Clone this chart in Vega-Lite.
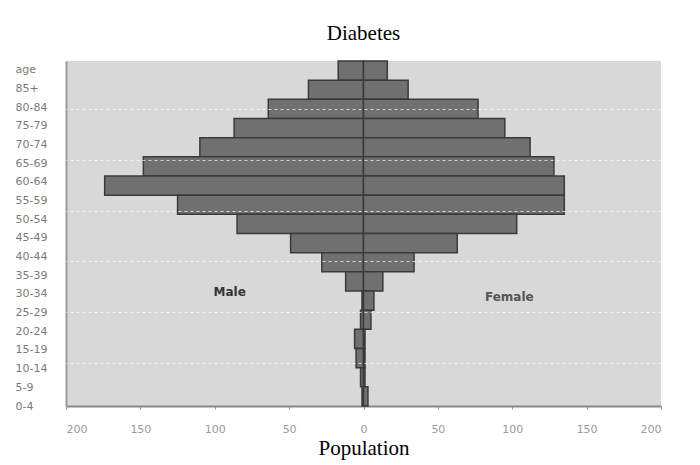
{
  "$schema": "https://vega.github.io/schema/vega-lite/v6.json",
  "width": 595,
  "height": 345,
  "autosize": {"type": "none"},
  "padding": {"left": 66, "top": 61, "right": 39, "bottom": 59},
  "background": "white",
  "config": {"view": {"fill": "#d8d8d8", "stroke": null}},
  "title": {"text": "Diabetes", "font": "Liberation Serif", "fontSize": 21, "fontWeight": "normal", "color": "black", "anchor": "middle", "offset": 16},
  "datasets": {
    "pyramid": [
      {"group": "85+", "sex": "Male", "value": -17}, {"group": "85+", "sex": "Female", "value": 16},
      {"group": "80-84", "sex": "Male", "value": -37}, {"group": "80-84", "sex": "Female", "value": 30},
      {"group": "75-79", "sex": "Male", "value": -64}, {"group": "75-79", "sex": "Female", "value": 77},
      {"group": "70-74", "sex": "Male", "value": -87}, {"group": "70-74", "sex": "Female", "value": 95},
      {"group": "65-69", "sex": "Male", "value": -110}, {"group": "65-69", "sex": "Female", "value": 112},
      {"group": "60-64", "sex": "Male", "value": -148}, {"group": "60-64", "sex": "Female", "value": 128},
      {"group": "55-59", "sex": "Male", "value": -174}, {"group": "55-59", "sex": "Female", "value": 135},
      {"group": "50-54", "sex": "Male", "value": -125}, {"group": "50-54", "sex": "Female", "value": 135},
      {"group": "45-49", "sex": "Male", "value": -85}, {"group": "45-49", "sex": "Female", "value": 103},
      {"group": "40-44", "sex": "Male", "value": -49}, {"group": "40-44", "sex": "Female", "value": 63},
      {"group": "35-39", "sex": "Male", "value": -28}, {"group": "35-39", "sex": "Female", "value": 34},
      {"group": "30-34", "sex": "Male", "value": -12}, {"group": "30-34", "sex": "Female", "value": 13},
      {"group": "25-29", "sex": "Male", "value": -1}, {"group": "25-29", "sex": "Female", "value": 7},
      {"group": "20-24", "sex": "Male", "value": -2}, {"group": "20-24", "sex": "Female", "value": 5},
      {"group": "15-19", "sex": "Male", "value": -6}, {"group": "15-19", "sex": "Female", "value": 1},
      {"group": "10-14", "sex": "Male", "value": -5}, {"group": "10-14", "sex": "Female", "value": 1},
      {"group": "5-9", "sex": "Male", "value": -2}, {"group": "5-9", "sex": "Female", "value": 1},
      {"group": "0-4", "sex": "Male", "value": -1}, {"group": "0-4", "sex": "Female", "value": 3}
    ],
    "labels": [
      {"label": "age"}, {"label": "85+"}, {"label": "80-84"}, {"label": "75-79"}, {"label": "70-74"},
      {"label": "65-69"}, {"label": "60-64"}, {"label": "55-59"}, {"label": "50-54"}, {"label": "45-49"},
      {"label": "40-44"}, {"label": "35-39"}, {"label": "30-34"}, {"label": "25-29"}, {"label": "20-24"},
      {"label": "15-19"}, {"label": "10-14"}, {"label": "5-9"}, {"label": "0-4"}
    ],
    "male": [{"text": "Male", "value": -90, "group": "25-29"}],
    "female": [{"text": "Female", "value": 98, "group": "25-29"}]
  },
  "layer": [
    {
      "data": {"name": "pyramid"},
      "mark": {"type": "bar", "fill": "#707070", "stroke": "#3a3a3a", "strokeWidth": 1.5},
      "encoding": {
        "y": {"field": "group", "type": "nominal",
          "scale": {"domain": ["85+","80-84","75-79","70-74","65-69","60-64","55-59","50-54","45-49","40-44","35-39","30-34","25-29","20-24","15-19","10-14","5-9","0-4"], "paddingInner": 0, "paddingOuter": 0},
          "axis": null},
        "x": {"field": "value", "type": "quantitative",
          "scale": {"domain": [-200, 200], "nice": false},
          "axis": {"values": [-200,-150,-100,-50,0,50,100,150,200], "labelExpr": "abs(datum.value)", "grid": false,
            "domainColor": "#888888", "domainWidth": 2, "tickColor": "#999999", "tickSize": 3,
            "labelFont": "DejaVu Sans", "labelFontSize": 11, "labelColor": "#9a9a9a", "labelPadding": 14,
            "title": "Population", "titleFont": "Liberation Serif", "titleFontSize": 21, "titleFontWeight": "normal", "titleColor": "black", "titlePadding": 3}}
      }
    },
    {
      "data": {"values": [{}]},
      "mark": {"type": "point", "opacity": 0},
      "encoding": {
        "y": {"datum": 1, "type": "quantitative",
          "scale": {"domain": [0.15, 6.95], "nice": false, "zero": false},
          "axis": {"orient": "right", "grid": true, "gridColor": "white", "gridDash": [3, 3], "gridWidth": 1, "gridOpacity": 0.7,
            "values": [1,2,3,4,5,6], "labels": false, "ticks": false, "domain": false, "title": null, "zindex": 1}}
      }
    },
    {
      "mark": {"type": "rule", "color": "#333333", "strokeWidth": 1.5},
      "encoding": {"x": {"datum": 0, "type": "quantitative"}}
    },
    {
      "data": {"name": "male"},
      "mark": {"type": "text", "font": "DejaVu Sans", "fontSize": 12, "fontWeight": "bold", "color": "#333333", "dy": -9},
      "encoding": {
        "x": {"field": "value", "type": "quantitative"},
        "y": {"field": "group", "type": "nominal",
          "scale": {"domain": ["85+","80-84","75-79","70-74","65-69","60-64","55-59","50-54","45-49","40-44","35-39","30-34","25-29","20-24","15-19","10-14","5-9","0-4"], "paddingInner": 0, "paddingOuter": 0},
          "axis": null},
        "text": {"field": "text"}
      }
    },
    {
      "data": {"name": "female"},
      "mark": {"type": "text", "font": "DejaVu Sans", "fontSize": 12, "fontWeight": "bold", "color": "#555555", "dy": -4},
      "encoding": {
        "x": {"field": "value", "type": "quantitative"},
        "y": {"field": "group", "type": "nominal",
          "scale": {"domain": ["85+","80-84","75-79","70-74","65-69","60-64","55-59","50-54","45-49","40-44","35-39","30-34","25-29","20-24","15-19","10-14","5-9","0-4"], "paddingInner": 0, "paddingOuter": 0},
          "axis": null},
        "text": {"field": "text"}
      }
    },
    {
      "data": {"name": "labels"},
      "mark": {"type": "point", "opacity": 0},
      "encoding": {
        "y": {"field": "label", "type": "nominal",
          "scale": {"type": "point", "domain": ["age","85+","80-84","75-79","70-74","65-69","60-64","55-59","50-54","45-49","40-44","35-39","30-34","25-29","20-24","15-19","10-14","5-9","0-4"], "padding": 0.24, "align": 1},
          "axis": {"orient": "left", "ticks": false, "tickSize": 0, "labelAlign": "left", "labelPadding": 51,
            "labelFont": "DejaVu Sans", "labelFontSize": 11, "labelColor": "#7a7a7a",
            "domainColor": "#9a9a9a", "domainWidth": 2, "title": null, "grid": false}}
      }
    }
  ],
  "resolve": {"scale": {"y": "independent"}, "axis": {"y": "independent"}}
}
